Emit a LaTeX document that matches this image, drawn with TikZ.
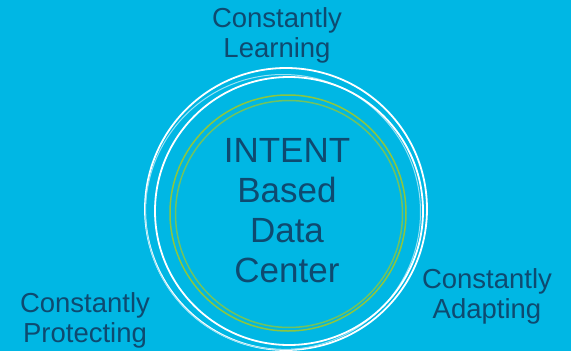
\documentclass[tikz,border=0pt]{standalone}
\usepackage{fontspec}
\setmainfont{Liberation Sans}
\definecolor{skyblue}{RGB}{0,183,228}
\definecolor{navytext}{RGB}{14,74,112}
\definecolor{leafgreen}{RGB}{140,198,63}
\begin{document}
\begin{tikzpicture}[
    x=1pt, y=-1pt,
    % Styles
    label/.style={text=navytext, align=center, inner sep=0pt, font=\fontsize{27.5}{29.5}\selectfont},
    core/.style={text=navytext, align=center, inner sep=0pt, font=\fontsize{35}{40}\selectfont},
    ring/.style={draw=white, line width=1.8pt},
    palering/.style={draw=white!60!skyblue, line width=1pt},
    greenring/.style={draw=leafgreen, line width=1.5pt},
]

% Background
\fill[skyblue] (0,0) rectangle (571,351);
\useasboundingbox (0,0) rectangle (571,351);

% Rings
\begin{scope}
    \clip (0,0) rectangle (571,351);
    \draw[ring] (286,209) circle (141);
    \draw[palering] (283,212) circle (137.5);
    \draw[ring] (289,211) circle (134);
    \draw[greenring] (288,213) circle (118);
    \draw[greenring, draw=leafgreen!80!skyblue] (289,214) circle (113.5);
\end{scope}

% Centre text (base = last line)
\node[core, anchor=base] (intent) at (287,282) {INTENT\\Based\\Data\\Center};

% Outer labels
\node[label, anchor=base] (learning) at (277,57) {Constantly\\Learning};
\node[label, anchor=base] (adapting) at (487,318) {Constantly\\Adapting};
\node[label, anchor=base] (protecting) at (85,342) {Constantly\\Protecting};

\end{tikzpicture}
\end{document}
